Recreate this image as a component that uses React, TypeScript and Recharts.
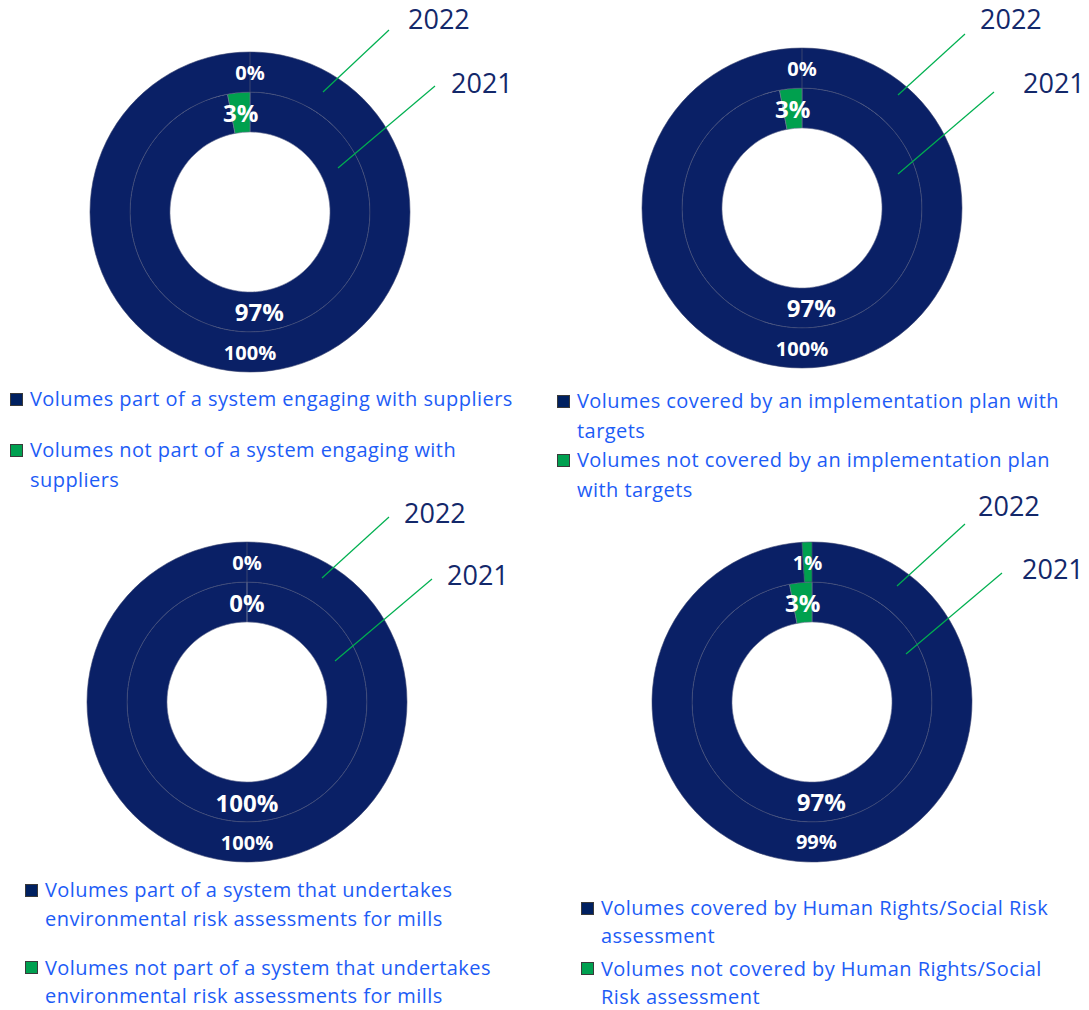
import { PieChart, Pie, Cell } from "recharts"

// shares in %, [covered, not covered]
const segmentNames = ["covered", "not covered"]
const segmentColors = ["#0a2066", "#00a04e"]
const legendSwatches = ["#002060", "#00a050"]
const years = ["2021", "2022"]

const engaging2021 = [97, 3]
const engaging2022 = [100, 0]
const plan2021 = [97, 3]
const plan2022 = [100, 0]
const envRisk2021 = [100, 0]
const envRisk2022 = [100, 0]
const humanRights2021 = [97, 3]
const humanRights2022 = [99, 1]

const engagingLegend = [
  "Volumes part of a system engaging with suppliers",
  "Volumes not part of a system engaging with\nsuppliers",
]
const planLegend = [
  "Volumes covered by an implementation plan with\ntargets",
  "Volumes not covered by an implementation plan\nwith targets",
]
const envRiskLegend = [
  "Volumes part of a system that undertakes\nenvironmental risk assessments for mills",
  "Volumes not part of a system that undertakes\nenvironmental risk assessments for mills",
]
const humanRightsLegend = [
  "Volumes covered by Human Rights/Social Risk\nassessment",
  "Volumes not covered by Human Rights/Social\nRisk assessment",
]

const FONT = "'Open Sans', 'Noto Sans', sans-serif"
const RAD = Math.PI / 180

type Panel = {
  key: string
  cx: number
  cy: number
  inner: number[]
  outer: number[]
  legend: string[]
  legendX: number
  legendY: number[]
  lineGap: number
  // leader lines + year texts, offsets from centre
  lines: number[][]
  yearPos: number[][]
}

const panels: Panel[] = [
  {
    key: "engaging",
    cx: 250, cy: 212,
    inner: engaging2021, outer: engaging2022,
    legend: engagingLegend,
    legendX: 10, legendY: [399, 450], lineGap: 29.5,
    lines: [[88, -44, 185, -126], [73, -120, 139, -182]],
    yearPos: [[201, -130], [158, -194]],
  },
  {
    key: "plan",
    cx: 802, cy: 208,
    inner: plan2021, outer: plan2022,
    legend: planLegend,
    legendX: 557, legendY: [401, 460], lineGap: 29.5,
    lines: [[96, -34, 192, -116], [96, -113, 163, -174]],
    yearPos: [[221, -126], [178, -190]],
  },
  {
    key: "envRisk",
    cx: 247, cy: 702,
    inner: envRisk2021, outer: envRisk2022,
    legend: envRiskLegend,
    legendX: 25, legendY: [890, 967.5], lineGap: 28.5,
    lines: [[88, -41, 185, -123], [75, -124, 142, -185]],
    yearPos: [[200, -128], [157, -190]],
  },
  {
    key: "humanRights",
    cx: 812, cy: 702,
    inner: humanRights2021, outer: humanRights2022,
    legend: humanRightsLegend,
    legendX: 581, legendY: [908, 968.5], lineGap: 28,
    lines: [[94, -48, 190, -129], [85, -116, 153, -178]],
    yearPos: [[210, -134], [166, -197]],
  },
]

const toRows = (values: number[]) =>
  values.map((v, i) => ({ name: segmentNames[i], value: v }))

const makeLabel = (size: number) => (props: any) => {
  const { cx, cy, midAngle, innerRadius, outerRadius, value, index } = props
  const r = (innerRadius + outerRadius) / 2
  const x = cx + r * Math.cos(-midAngle * RAD)
  const y = cy + r * Math.sin(-midAngle * RAD)
  return (
    <text
      key={`lbl-${index}`}
      x={x}
      y={y}
      fill="#ffffff"
      fontSize={size}
      fontWeight={700}
      fontFamily={FONT}
      textAnchor="middle"
      dominantBaseline="central"
    >
      {value}%
    </text>
  )
}

export default function App() {
  return (
    <div style={{ position: "absolute", left: 0, top: 0, width: 1089, height: 1010, background: "#fff", overflow: "hidden" }}>
      <PieChart width={1089} height={1010} margin={{ top: 0, right: 0, bottom: 0, left: 0 }}>
        {panels.flatMap((p) => [
          <Pie
            key={`${p.key}-inner`}
            data={toRows(p.inner)}
            dataKey="value"
            cx={p.cx}
            cy={p.cy}
            innerRadius={80}
            outerRadius={120}
            startAngle={90}
            endAngle={-270}
            stroke="#6f7696"
            strokeWidth={0.6}
            label={makeLabel(24)}
            labelLine={false}
            isAnimationActive={false}
          >
            {p.inner.map((_, i) => (
              <Cell key={`c-${i}`} fill={segmentColors[i]} />
            ))}
          </Pie>,
          <Pie
            key={`${p.key}-outer`}
            data={toRows(p.outer)}
            dataKey="value"
            cx={p.cx}
            cy={p.cy}
            innerRadius={120}
            outerRadius={160}
            startAngle={90}
            endAngle={-270}
            stroke="#3b4470"
            strokeWidth={0.6}
            label={makeLabel(20)}
            labelLine={false}
            isAnimationActive={false}
          >
            {p.outer.map((_, i) => (
              <Cell key={`c-${i}`} fill={segmentColors[i]} />
            ))}
          </Pie>,
        ])}
      </PieChart>

      <svg width={1089} height={1010} style={{ position: "absolute", left: 0, top: 0, pointerEvents: "none" }}>
        {panels.map((p) => (
          <g key={p.key}>
            {p.lines.map((l, i) => (
              <line
                key={`ln-${i}`}
                x1={p.cx + l[0]}
                y1={p.cy + l[1]}
                x2={p.cx + l[2]}
                y2={p.cy + l[3]}
                stroke="#00b050"
                strokeWidth={1.2}
              />
            ))}
            {p.yearPos.map((t, i) => (
              <text
                key={`yr-${i}`}
                x={p.cx + t[0]}
                y={p.cy + t[1]}
                fill="#13286a"
                fontSize={27}
                fontFamily={FONT}
                dominantBaseline="central"
              >
                {years[i]}
              </text>
            ))}
          </g>
        ))}
      </svg>

      {panels.map((p) =>
        p.legend.map((label, i) => (
          <div key={`${p.key}-lg-${i}`}>
            <span
              style={{
                position: "absolute",
                left: p.legendX,
                top: p.legendY[i] - 6.5,
                width: 11,
                height: 11,
                background: legendSwatches[i],
                border: "1px solid #3a3a3a",
              }}
            />
            {label.split("\n").map((line, j) => (
              <div
                key={`ln-${j}`}
                style={{
                  position: "absolute",
                  left: p.legendX + 20,
                  top: p.legendY[i] + j * p.lineGap - 10,
                  height: 20,
                  lineHeight: "20px",
                  fontFamily: FONT,
                  fontSize: 20,
                  letterSpacing: 0.45,
                  color: "#1d5cf6",
                  whiteSpace: "nowrap",
                }}
              >
                {line}
              </div>
            ))}
          </div>
        ))
      )}
    </div>
  )
}
